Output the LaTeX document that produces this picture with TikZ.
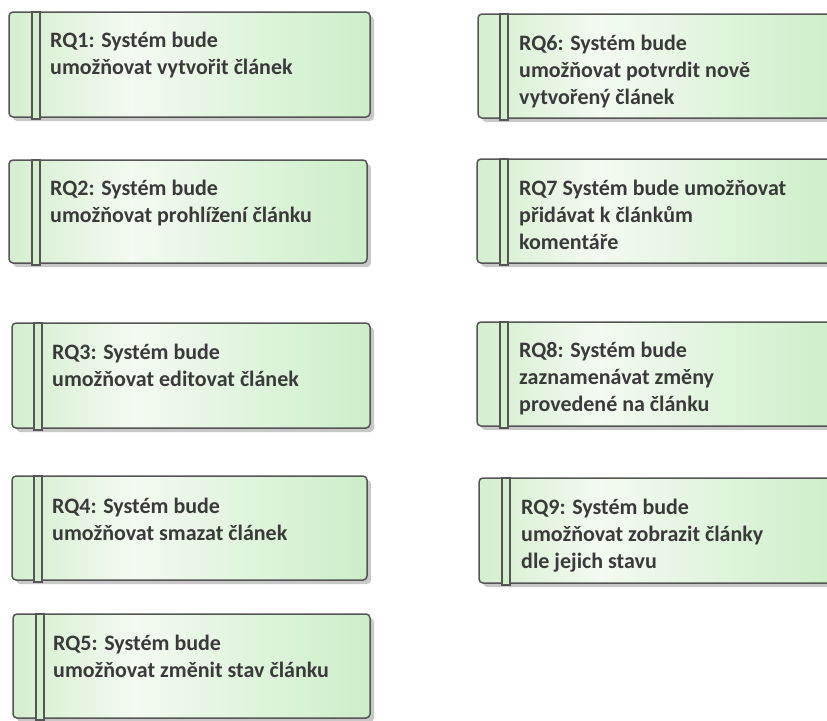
\documentclass[tikz,border=0pt]{standalone}
\usepackage{fontspec}
\setmainfont{Carlito}
\usetikzlibrary{shadows}
\definecolor{gA}{RGB}{212,238,206}
\definecolor{gB}{RGB}{243,250,241}
\definecolor{gC}{RGB}{204,238,200}
\definecolor{bord}{RGB}{85,85,85}
\definecolor{shad}{RGB}{200,200,200}
\definecolor{txt}{RGB}{58,58,58}
\pgfdeclarehorizontalshading{reqshade}{100bp}{color(0bp)=(gA); color(25bp)=(gA); color(42bp)=(gB); color(75bp)=(gC); color(100bp)=(gC)}
\tikzset{
  reqbox/.style={draw=bord, line width=1.5pt, rounded corners=4pt, shading=reqshade, anchor=north west, inner sep=0pt, outer sep=0pt,
    drop shadow={shadow xshift=4pt, shadow yshift=-4pt, fill=shad, opacity=1}},
  reqbar/.style={draw=bord, line width=1.2pt, fill=gA, inner sep=0pt, outer sep=0pt, anchor=north west, minimum width=8pt},
  reqtext/.style={anchor=base west, align=left, inner sep=0pt, text=txt, font=\fontsize{22}{27}\selectfont\bfseries},
}
\begin{document}
\begin{tikzpicture}[x=1pt,y=-1pt]
\useasboundingbox (0,0) rectangle (827,720);
\begin{scope}
\clip (0,0) rectangle (827,720);
% RQ1
\node[reqbox, minimum width=361pt, minimum height=105pt] (rq1) at (9,12) {};
\node[reqbar, minimum height=107pt] (rq1bar) at (32,12) {};
\node[reqtext] (rq1t) at (50,47+27) {RQ1: Systém bude\\umožňovat vytvořit článek};
% RQ2
\node[reqbox, minimum width=358pt, minimum height=103pt] (rq2) at (9,160) {};
\node[reqbar, minimum height=105pt] (rq2bar) at (32,160) {};
\node[reqtext] (rq2t) at (50,195+27) {RQ2: Systém bude\\umožňovat prohlížení článku};
% RQ3
\node[reqbox, minimum width=358pt, minimum height=105pt] (rq3) at (12,323) {};
\node[reqbar, minimum height=107pt] (rq3bar) at (34,323) {};
\node[reqtext] (rq3t) at (52,359+27) {RQ3: Systém bude\\umožňovat editovat článek};
% RQ4
\node[reqbox, minimum width=355pt, minimum height=104pt] (rq4) at (12,476) {};
\node[reqbar, minimum height=106pt] (rq4bar) at (34,476) {};
\node[reqtext] (rq4t) at (52,513+27) {RQ4: Systém bude\\umožňovat smazat článek};
% RQ5
\node[reqbox, minimum width=357pt, minimum height=104pt] (rq5) at (13,614) {};
\node[reqbar, minimum height=106pt] (rq5bar) at (36,614) {};
\node[reqtext] (rq5t) at (53,650+27) {RQ5: Systém bude\\umožňovat změnit stav článku};
% RQ6
\node[reqbox, minimum width=361pt, minimum height=104pt] (rq6) at (478,14) {};
\node[reqbar, minimum height=106pt] (rq6bar) at (500,14) {};
\node[reqtext] (rq6t) at (519,50+54) {RQ6: Systém bude\\umožňovat potvrdit nově\\vytvořený článek};
% RQ7
\node[reqbox, minimum width=361pt, minimum height=104pt] (rq7) at (477,159) {};
\node[reqbar, minimum height=106pt] (rq7bar) at (500,159) {};
\node[reqtext] (rq7t) at (519,195+54) {RQ7 Systém bude umožňovat\\přidávat k článkům\\komentáře};
% RQ8
\node[reqbox, minimum width=361pt, minimum height=104pt] (rq8) at (477,322) {};
\node[reqbar, minimum height=106pt] (rq8bar) at (500,322) {};
\node[reqtext] (rq8t) at (519,357+54) {RQ8: Systém bude\\zaznamenávat změny\\provedené na článku};
% RQ9
\node[reqbox, minimum width=361pt, minimum height=105pt] (rq9) at (479,478) {};
\node[reqbar, minimum height=107pt] (rq9bar) at (502,478) {};
\node[reqtext] (rq9t) at (521,514+54) {RQ9: Systém bude\\umožňovat zobrazit články\\dle jejich stavu};
\end{scope}
\end{tikzpicture}
\end{document}
